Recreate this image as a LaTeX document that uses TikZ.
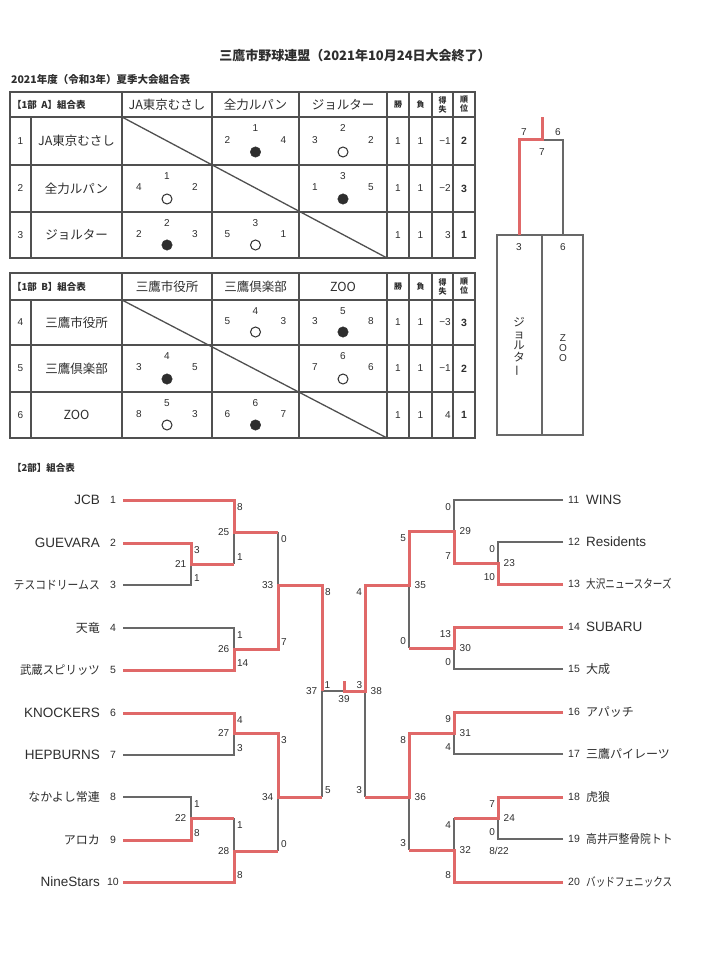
\documentclass[tikz,border=0pt]{standalone}
\usepackage{fontspec}
\usepackage{graphicx}
\setmainfont{Noto Sans CJK JP}
\newfontfamily\lat{Liberation Sans}
\definecolor{redline}{HTML}{E06868}
\definecolor{grayline}{HTML}{686868}
\definecolor{tablegray}{HTML}{505050}
\definecolor{ink}{HTML}{2E2E2E}
\newcommand{\fs}[1]{\fontsize{#1}{#1}\selectfont}
\newcommand{\jp}[2][1]{\scalebox{#1}[1]{\fs{12}#2}}
\newcommand{\en}[1]{{\lat\fs{13.5}#1}}
\newcommand{\mkmatch}[6]{%
  \coordinate (m#1t) at (#2,#3);
  \coordinate (m#1b) at (#2,#4);
  \coordinate (m#1o) at (#2,#5);
  \coordinate (m#1n) at (#6,#5);
}
\newcommand{\lsc}[3]{%
  \node[sc,anchor=west] (sc#1t) at ([shift={(1.8,7.5)}]m#1t) {#2};
  \node[sc,anchor=west] (sc#1b) at ([shift={(1.8,-7)}]m#1b) {#3};
  \node[sc,anchor=east] (sc#1n) at ([shift={(-3.5,0)}]m#1o) {#1};
}
\newcommand{\rsc}[3]{%
  \node[sc,anchor=east] (sc#1t) at ([shift={(-1.8,7.5)}]m#1t) {#2};
  \node[sc,anchor=east] (sc#1b) at ([shift={(-1.8,-7)}]m#1b) {#3};
  \node[sc,anchor=west] (sc#1n) at ([shift={(4.5,0)}]m#1o) {#1};
}
\newcommand{\lteam}[3]{%
  \node[seed] (k#1) at (113,#2) {#1};
  \node[tname,anchor=east] (n#1) at (101,#2) {#3};
  \coordinate (ts#1) at (123,#2);
}
\newcommand{\rteam}[3]{%
  \node[seed,anchor=west] (k#1) at (567,#2) {#1};
  \node[tname,anchor=west] (n#1) at (585,#2) {#3};
  \coordinate (ts#1) at (563,#2);
}
\newcommand{\scell}[8]{%
  \node[tnum] (#1t) at (#2,{#3+11}) {#6};
  \node[tnum] (#1l) at ({#2-28},{(#3+#4)/2-1}) {#5};
  \node[tnum] (#1r) at ({#2+28},{(#3+#4)/2-1}) {#7};
  \node[#8] (#1c) at (#2,{#4-13}) {};
}
\newcommand{\stats}[6]{%
  \node[tnum] (#1w) at (398,#2) {#3};
  \node[tnum] (#1l) at (420.5,#2) {#4};
  \node[tnum,anchor=east] (#1d) at (451.5,#2) {#5};
  \node[tnum,font=\lat\bfseries\fs{10.5}] (#1r) at (464,#2) {#6};
}
\newcommand{\trow}[4]{%
  \node[tnum] (#1n) at (20.5,#2) {#3};
  \node[tn] (#1m) at (76.5,#2) {#4};
}
\begin{document}
\begin{tikzpicture}[x=1pt,y=-1pt,
  gl/.style={draw=grayline, line width=1.3pt},
  rl/.style={draw=redline, line width=3pt, line join=miter},
  tl/.style={draw=tablegray, line width=1.3pt},
  sc/.style={font=\lat\fs{10}, text=ink, inner sep=1pt},
  seed/.style={font=\lat\fs{10.5}, text=ink, inner sep=1pt},
  tname/.style={text=ink, inner sep=1pt},
  tn/.style={font=\fs{12.5}, text=ink, inner sep=0pt},
  tnum/.style={font=\lat\fs{10}, text=ink, inner sep=0.5pt},
  hd/.style={font=\bfseries\fs{9.5}, text=ink, anchor=west, inner sep=0pt},
  sm/.style={font=\bfseries\fontsize{8}{9}\selectfont, text=ink, align=center, inner sep=0pt},
  bk/.style={circle, fill=ink, draw=ink, minimum size=10.5pt, inner sep=0pt},
  wh/.style={circle, draw=ink, line width=1pt, minimum size=10pt, inner sep=0pt},
]
\fill[white] (0,0) rectangle (709,968);
\useasboundingbox (0,0) rectangle (709,968);

% titles
\node[font=\bfseries\fs{13}, text=ink] (title) at (355,56) {三鷹市野球連盟（2021年10月24日大会終了）};
\node[font=\bfseries\fs{10.5}, text=ink, anchor=west, inner sep=0pt] (subtitle) at (11,80) {2021年度（令和3年）夏季大会組合表};

% ---------- table A ----------
\draw[tl] (10,92) rectangle (475,258);
\foreach \yy in {117,165,212} \draw[tl] (10,\yy) -- (475,\yy);
\foreach \xx in {122,212,299,387,409,432,453} \draw[tl] (\xx,92) -- (\xx,258);
\draw[tl] (31,117) -- (31,258);
\draw[tl] (122,117) -- (387,258);
\node[hd] (hA) at (12,104.5) {【1部\ \ A】組合表};
\node[tn] (hA1) at (167,104.5) {JA東京むさし};
\node[tn] (hA2) at (255.5,104.5) {全力ルパン};
\node[tn] (hA3) at (343,104.5) {ジョルター};
\node[sm] (hAw) at (398,104.5) {勝};
\node[sm] (hAl) at (420.5,104.5) {負};
\node[sm] (hAd) at (442.5,104.5) {得\\失};
\node[sm] (hAr) at (464,104.5) {順\\位};
\trow{rA1}{141}{1}{JA東京むさし}
\trow{rA2}{188.5}{2}{全力ルパン}
\trow{rA3}{235}{3}{ジョルター}
\scell{cA12}{255.5}{117}{165}{2}{1}{4}{bk}
\scell{cA13}{343}{117}{165}{3}{2}{2}{wh}
\scell{cA21}{167}{165}{212}{4}{1}{2}{wh}
\scell{cA23}{343}{165}{212}{1}{3}{5}{bk}
\scell{cA31}{167}{212}{258}{2}{2}{3}{bk}
\scell{cA32}{255.5}{212}{258}{5}{3}{1}{wh}
\stats{sA1}{141}{1}{1}{−1}{2}
\stats{sA2}{188.5}{1}{1}{−2}{3}
\stats{sA3}{235}{1}{1}{3}{1}

% ---------- table B ----------
\draw[tl] (10,273) rectangle (475,438);
\foreach \yy in {300,345,392} \draw[tl] (10,\yy) -- (475,\yy);
\foreach \xx in {122,212,299,387,409,432,453} \draw[tl] (\xx,273) -- (\xx,438);
\draw[tl] (31,300) -- (31,438);
\draw[tl] (122,300) -- (387,438);
\node[hd] (hB) at (12,286.5) {【1部\ \ B】組合表};
\node[tn] (hB1) at (167,286.5) {三鷹市役所};
\node[tn] (hB2) at (255.5,286.5) {三鷹倶楽部};
\node[tn] (hB3) at (343,286.5) {ZOO};
\node[sm] (hBw) at (398,286.5) {勝};
\node[sm] (hBl) at (420.5,286.5) {負};
\node[sm] (hBd) at (442.5,286.5) {得\\失};
\node[sm] (hBr) at (464,286.5) {順\\位};
\trow{rB4}{322.5}{4}{三鷹市役所}
\trow{rB5}{368.5}{5}{三鷹倶楽部}
\trow{rB6}{415}{6}{ZOO}
\scell{cB45}{255.5}{300}{345}{5}{4}{3}{wh}
\scell{cB46}{343}{300}{345}{3}{5}{8}{bk}
\scell{cB54}{167}{345}{392}{3}{4}{5}{bk}
\scell{cB56}{343}{345}{392}{7}{6}{6}{wh}
\scell{cB64}{167}{392}{438}{8}{5}{3}{wh}
\scell{cB65}{255.5}{392}{438}{6}{6}{7}{bk}
\stats{sB4}{322.5}{1}{1}{−3}{3}
\stats{sB5}{368.5}{1}{1}{−1}{2}
\stats{sB6}{415}{1}{1}{4}{1}

% ---------- 1部 final (top right) ----------
\draw[gl] (497,235) rectangle (583,435);
\draw[gl] (542,235) -- (542,435);
\coordinate (b3) at (519,235);
\coordinate (b3u) at (519,140);
\coordinate (bm) at (542,140);
\coordinate (bw) at (542,117);
\coordinate (b6) at (563,235);
\coordinate (b6u) at (563,140);
\draw[gl] (b6) -- (b6u) -- (bm);
\draw[rl] (b3) -- (b3u) -- (bm) -- (bw);
\node[sc] (bl7a) at (524,132) {7};
\node[sc] (bl6a) at (558,132) {6};
\node[sc] (bl7b) at (542,152) {7};
\node[sc] (bl3) at (519,247) {3};
\node[sc] (bl6) at (563,247) {6};
\node[font=\fs{11.5}, text=ink, align=center, inner sep=0pt] (vj) at (519,347)
  {\baselineskip=15pt ジ\\ョ\\ル\\タ\\\rotatebox[origin=c]{90}{ー}};
\node[font=\lat\fs{10}, text=ink, align=center, inner sep=0pt] (vz) at (563,348)
  {\baselineskip=12.5pt Z\\O\\O};

% ---------- 2部 ----------
\node[hd] (h2) at (12,468) {【2部】組合表};

\lteam{1}{500}{\en{JCB}}
\lteam{2}{543}{\en{GUEVARA}}
\lteam{3}{585}{\jp[0.9]{テスコドリームス}}
\lteam{4}{628}{\jp{天竜}}
\lteam{5}{670}{\jp[0.95]{武蔵スピリッツ}}
\lteam{6}{713}{\en{KNOCKERS}}
\lteam{7}{755}{\en{HEPBURNS}}
\lteam{8}{797}{\jp{なかよし常連}}
\lteam{9}{840}{\jp{アロカ}}
\lteam{10}{882}{\en{NineStars}}
\rteam{11}{500}{\en{WINS}}
\rteam{12}{542}{\en{Residents}}
\rteam{13}{584}{\jp[0.8]{大沢ニュースターズ}}
\rteam{14}{627}{\en{SUBARU}}
\rteam{15}{669}{\jp{大成}}
\rteam{16}{712}{\jp{アパッチ}}
\rteam{17}{754}{\jp{三鷹パイレーツ}}
\rteam{18}{797}{\jp{虎狼}}
\rteam{19}{839}{\jp[0.9]{高井戸整骨院トト}}
\rteam{20}{882}{\jp[0.8]{バッドフェニックス}}

\mkmatch{21}{191}{543}{585}{564}{234}
\mkmatch{25}{234}{500}{564}{532}{278}
\mkmatch{26}{234}{628}{670}{649}{278}
\mkmatch{33}{278}{532}{649}{585}{322}
\mkmatch{27}{234}{713}{755}{733}{278}
\mkmatch{22}{191}{797}{840}{818}{234}
\mkmatch{28}{234}{818}{882}{851}{278}
\mkmatch{34}{278}{733}{851}{797}{322}
\mkmatch{37}{322}{585}{797}{691}{344}
\mkmatch{23}{498}{542}{584}{563}{454}
\mkmatch{29}{454}{500}{563}{531}{409}
\mkmatch{30}{454}{627}{669}{648}{409}
\mkmatch{35}{409}{531}{648}{585}{365}
\mkmatch{31}{454}{712}{754}{733}{409}
\mkmatch{24}{498}{797}{839}{818}{454}
\mkmatch{32}{454}{818}{882}{850}{409}
\mkmatch{36}{409}{733}{850}{797}{365}
\mkmatch{38}{365}{585}{797}{691}{344}
\coordinate (fin) at (344,691);
\coordinate (fintop) at (344,681);

\draw[gl] (ts3)--(m21b)--(m21o) (ts4)--(m26t)--(m26o) (ts7)--(m27b)--(m27o)
  (ts8)--(m22t)--(m22o) (m25o)--(m25b) (m33t)--(m33o) (m28t)--(m28o)
  (m34o)--(m34b) (m37o)--(m37b) (m37o)--(fin)
  (ts11)--(m29t)--(m29o) (ts12)--(m23t)--(m23o) (ts15)--(m30b)--(m30o)
  (ts17)--(m31b)--(m31o) (ts19)--(m24b)--(m24o) (m35o)--(m35b)
  (m32t)--(m32o) (m36o)--(m36b) (m38o)--(m38b);

\draw[rl] (ts1)--(m25t)--(m25o)--(m25n);
\draw[rl] (ts2)--(m21t)--(m21o)--(m21n);
\draw[rl] (ts5)--(m26b)--(m26o)--(m33b)--(m33o)--(m37t)--(m37o);
\draw[rl] (ts6)--(m27t)--(m27o)--(m34t)--(m34o)--(m37b);
\draw[rl] (ts9)--(m22b)--(m22o)--(m28t);
\draw[rl] (ts10)--(m28b)--(m28o)--(m34b);
\draw[rl] (ts13)--(m23b)--(m23o)--(m29b)--(m29o)--(m35t)--(m35o)--(m38t)--(m38o)--(fin)--(fintop);
\draw[rl] (ts14)--(m30t)--(m30o)--(m35b);
\draw[rl] (ts16)--(m31t)--(m31o)--(m36t)--(m36o)--(m38b);
\draw[rl] (ts18)--(m24t)--(m24o)--(m32t);
\draw[rl] (ts20)--(m32b)--(m32o)--(m36b);

\lsc{21}{3}{1}
\lsc{25}{8}{1}
\lsc{26}{1}{14}
\lsc{33}{0}{7}
\lsc{27}{4}{3}
\lsc{22}{1}{8}
\lsc{28}{1}{8}
\lsc{34}{3}{0}
\lsc{37}{8}{5}
\rsc{23}{0}{10}
\rsc{29}{0}{7}
\rsc{30}{13}{0}
\rsc{35}{5}{0}
\rsc{31}{9}{4}
\rsc{24}{7}{0}
\rsc{32}{4}{8}
\rsc{36}{8}{3}
\rsc{38}{4}{3}
\node[sc,anchor=west] (f1) at ([shift={(1.5,-5.5)}]m37o) {1};
\node[sc,anchor=east] (f3) at ([shift={(-1.5,-5.5)}]m38o) {3};
\node[sc] (f39) at ([shift={(0,8)}]fin) {39};
\node[sc] (f822) at (499,851) {8/22};
\end{tikzpicture}
\end{document}
